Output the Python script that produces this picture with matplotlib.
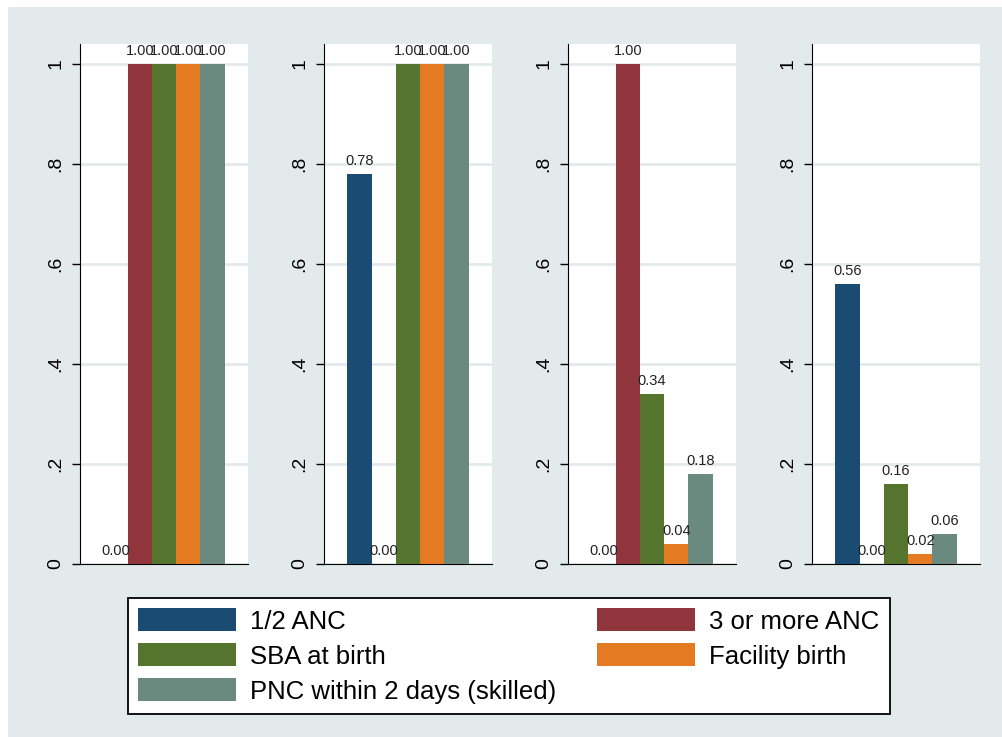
import matplotlib
matplotlib.use("Agg")
import matplotlib.pyplot as plt
from matplotlib.patches import Patch
import numpy as np

plt.rcParams['font.family'] = ['Liberation Sans', 'DejaVu Sans']

series = ["1/2 ANC", "3 or more ANC", "SBA at birth", "Facility birth",
          "PNC within 2 days (skilled)"]
colors = ["#1a4b72", "#90353b", "#55752f", "#e47a22", "#6a8a80"]
panel1 = [0.00, 1.00, 1.00, 1.00, 1.00]
panel2 = [0.78, 0.00, 1.00, 1.00, 1.00]
panel3 = [0.00, 1.00, 0.34, 0.04, 0.18]
panel4 = [0.56, 0.00, 0.16, 0.02, 0.06]
panels = [panel1, panel2, panel3, panel4]
yticks = [0, 0.2, 0.4, 0.6, 0.8, 1.0]
yticklabels = ["0", ".2", ".4", ".6", ".8", "1"]

W, H = 1003, 737
fig = plt.figure(figsize=(W/100, H/100), dpi=100)
fig.patch.set_facecolor("white")
bg = plt.Rectangle((8/W, 0), 1, 1 - 7/H, transform=fig.transFigure,
                   facecolor="#e3eaeb", edgecolor="none", zorder=-10)
fig.patches.append(bg)

lefts = [80, 324, 568, 812]
pw = 168
top, bottom = 44, 564
x = np.arange(len(series))
for i, vals in enumerate(panels):
    ax = fig.add_axes([lefts[i]/W, 1 - bottom/H, pw/W, (bottom - top)/H])
    ax.set_facecolor("white")
    ax.bar(x, vals, width=1.0, color=colors, zorder=3)
    for xi, v in zip(x, vals):
        ax.text(xi, v + 0.012, f"{v:.2f}", ha="center", va="bottom",
                fontsize=10.5, color="#222222", zorder=4)
    ax.set_xlim(-1.47, 5.47)
    ax.set_ylim(0, 1.04)
    ax.set_yticks(yticks)
    ax.set_yticklabels(yticklabels, rotation=90, va="center", fontsize=14)
    ax.set_xticks([])
    ax.grid(axis="y", color="#e3eaeb", linewidth=2, zorder=0)
    for s in ["top", "right"]:
        ax.spines[s].set_visible(False)
    ax.spines["left"].set_color("black")
    ax.spines["bottom"].set_color("black")
    ax.tick_params(axis="y", length=6, width=1, pad=5)

order = [0, 2, 4, 1, 3]
handles = [Patch(facecolor=colors[k], edgecolor="none") for k in order]
labels = [series[k] for k in order]
leg = fig.legend(handles, labels, ncol=2, loc="upper left",
                 bbox_to_anchor=(128/W, 1 - 598/H), fontsize=18.5,
                 frameon=True, fancybox=False, edgecolor="black",
                 framealpha=1, facecolor="white",
                 handlelength=3.8, handleheight=1.0, handletextpad=0.55,
                 columnspacing=1.6, labelspacing=0.38, borderpad=0.4,
                 borderaxespad=0)
leg.get_frame().set_linewidth(1.3)

fig.savefig("out.png", dpi=100)
